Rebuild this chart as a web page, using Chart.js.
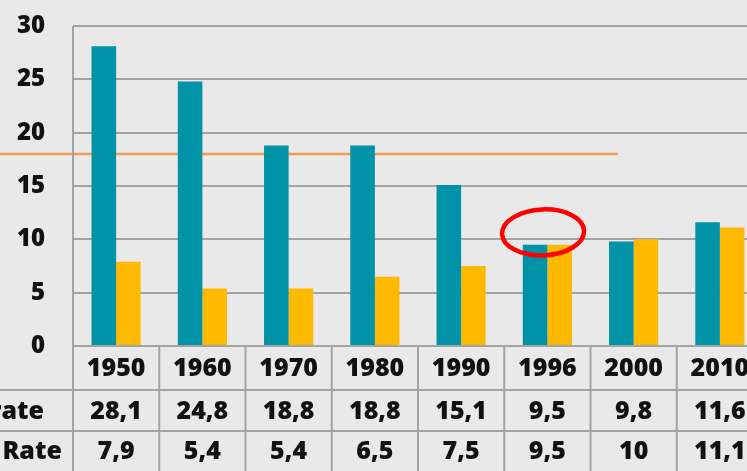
<!DOCTYPE html>
<html>
<head>
<meta charset="utf-8">
<script src="https://cdn.jsdelivr.net/npm/chart.js@4.4.1/dist/chart.umd.min.js"></script>
<style>
  html, body { margin: 0; padding: 0; background: #e9e9e9; overflow: hidden; }
  #wrap { width: 747px; height: 471px; overflow: hidden; }
</style>
</head>
<body>
<div id="wrap"><canvas id="chart" width="780" height="471"></canvas></div>
<script>
// data
var years = ["1950", "1960", "1970", "1980", "1990", "1996", "2000", "2010"];
var birthRate = [28.1, 24.8, 18.8, 18.8, 15.1, 9.5, 9.8, 11.6];
var deathRate = [7.9, 5.4, 5.4, 6.5, 7.5, 9.5, 10, 11.1];
var rowLabels = ["Birth rate", "Death Rate"];
var birthText = ["28,1", "24,8", "18,8", "18,8", "15,1", "9,5", "9,8", "11,6"];
var deathText = ["7,9", "5,4", "5,4", "6,5", "7,5", "9,5", "10", "11,1"];
var refLevel = 18;       // orange reference line
var refLineEnd = 5.82;   // category index where the line stops
var markIndex = 4.95;    // red circle around 1996
var markValue = 10.65;

var TEAL = "#0092a7";
var GOLD = "#ffb900";
var GRID = "#a3a3a3";
var FONT = "'Open Sans'";

var tablePlugin = {
  id: "tablePlugin",
  beforeDatasetsDraw: function(chart) {
    var ctx = chart.ctx, x = chart.scales.x, y = chart.scales.y;
    var yy = y.getPixelForValue(refLevel);
    ctx.save();
    ctx.strokeStyle = "#eea050";
    ctx.lineWidth = 2.5;
    ctx.beginPath();
    ctx.moveTo(0, yy);
    ctx.lineTo(x.getPixelForValue(refLineEnd), yy);
    ctx.stroke();
    ctx.restore();
  },
  afterDatasetsDraw: function(chart) {
    var ctx = chart.ctx, x = chart.scales.x, y = chart.scales.y;
    ctx.save();
    ctx.strokeStyle = "#ff0000";
    ctx.lineWidth = 4.5;
    ctx.beginPath();
    ctx.ellipse(x.getPixelForValue(markIndex), y.getPixelForValue(markValue), 41, 23, -0.04, 0, Math.PI * 2);
    ctx.stroke();
    ctx.restore();
  },
  afterDraw: function(chart) {
    var ctx = chart.ctx, x = chart.scales.x, area = chart.chartArea;
    var H = chart.height, W = chart.width;
    var step = x.getPixelForValue(1) - x.getPixelForValue(0);
    var top = area.bottom;
    var r1 = top + 44, r2 = top + 85;
    ctx.save();
    ctx.strokeStyle = GRID;
    ctx.lineWidth = 2;
    ctx.beginPath();
    ctx.moveTo(area.left, top); ctx.lineTo(W, top);
    ctx.moveTo(0, r1); ctx.lineTo(W, r1);
    ctx.moveTo(0, r2); ctx.lineTo(W, r2);
    ctx.moveTo(area.left, area.top); ctx.lineTo(area.left, H);
    for (var i = 0; i < years.length; i++) {
      var bx = x.getPixelForValue(i) + step / 2;
      ctx.moveTo(bx, top); ctx.lineTo(bx, H);
    }
    ctx.stroke();

    ctx.fillStyle = "#111";
    ctx.font = "800 25px " + FONT;
    ctx.textAlign = "center";
    ctx.textBaseline = "middle";
    for (var j = 0; j < years.length; j++) {
      var cx = x.getPixelForValue(j);
      ctx.fillText(years[j], cx, (top + r1) / 2 + 1);
      ctx.fillText(birthText[j], cx, (r1 + r2) / 2 + 1);
      ctx.fillText(deathText[j], cx, (r2 + H) / 2 + 1);
    }
    ctx.textAlign = "left";
    var sx = 44 - ctx.measureText(rowLabels[0]).width;
    ctx.fillText(rowLabels[0], sx, (r1 + r2) / 2 + 1);
    ctx.fillText(rowLabels[1], sx, (r2 + H) / 2 + 1);
    ctx.restore();
  }
};

new Chart(document.getElementById("chart"), {
  type: "bar",
  data: {
    labels: years,
    datasets: [
      { label: rowLabels[0], data: birthRate, backgroundColor: TEAL },
      { label: rowLabels[1], data: deathRate, backgroundColor: GOLD }
    ]
  },
  options: {
    responsive: false,
    animation: false,
    layout: { padding: { top: 26, bottom: 125, right: 17, left: 0 } },
    datasets: { bar: { categoryPercentage: 0.57, barPercentage: 1.0 } },
    plugins: { legend: { display: false }, tooltip: { enabled: false } },
    scales: {
      x: { display: false },
      y: {
        min: 0, max: 30,
        afterFit: function(s) { s.width = 73; s.paddingTop = 0; s.paddingBottom = 0; },
        ticks: { stepSize: 5, padding: 28, color: "#111", font: { family: "Open Sans", size: 24, weight: "800" } },
        grid: { color: GRID, lineWidth: 2, drawTicks: false },
        border: { display: false }
      }
    }
  },
  plugins: [tablePlugin]
});
</script>
</body>
</html>
